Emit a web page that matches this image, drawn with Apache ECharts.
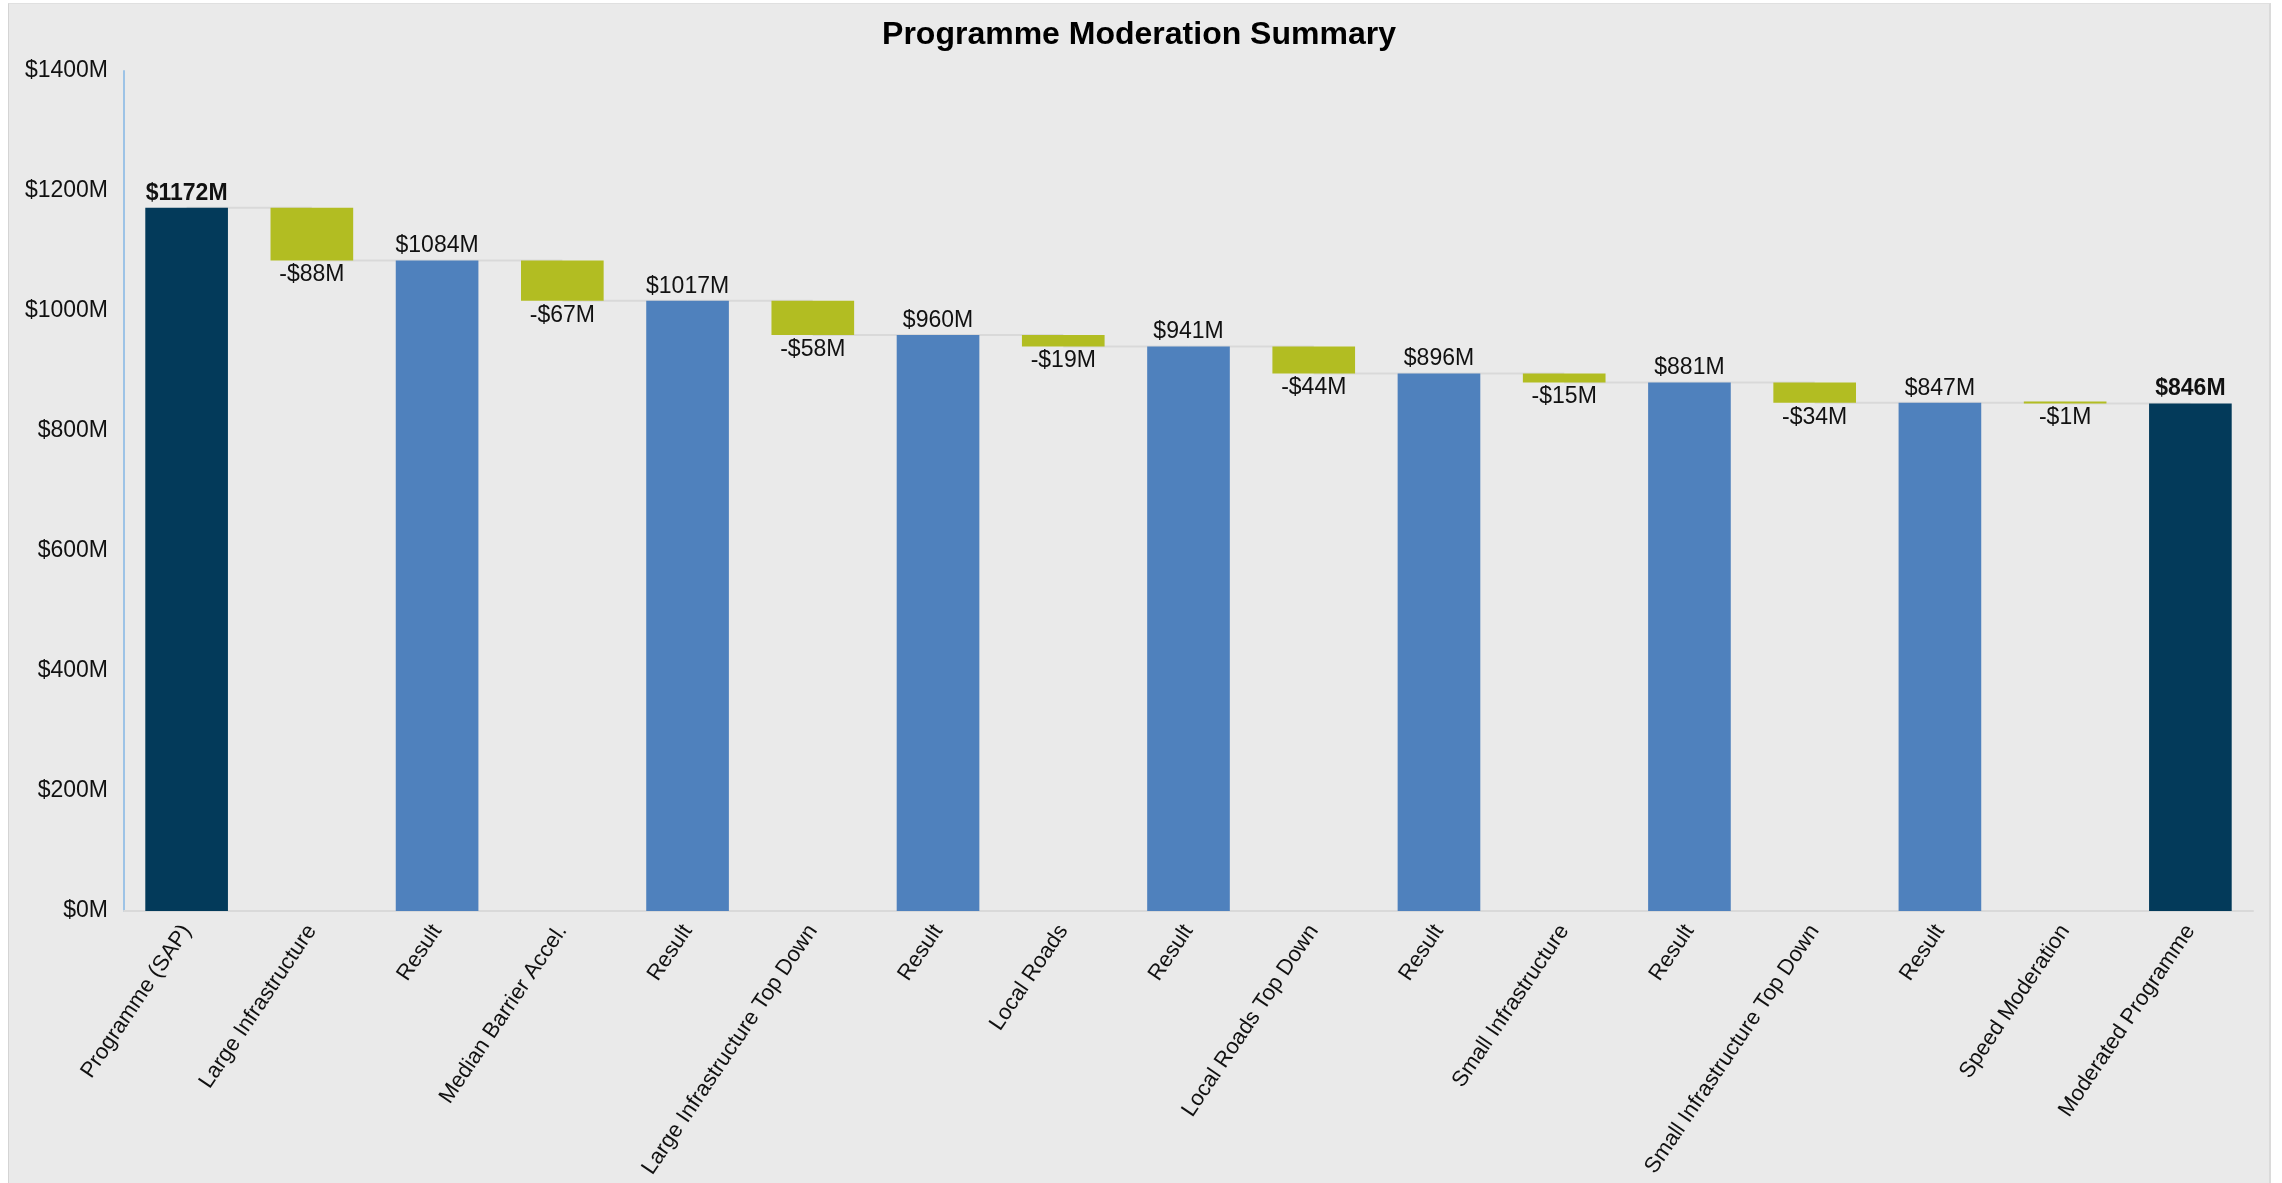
<!DOCTYPE html>
<html>
<head>
<meta charset="utf-8">
<title>Programme Moderation Summary</title>
<script src="https://cdn.jsdelivr.net/npm/echarts@6/dist/echarts.min.js"></script>
<style>
  html, body { margin: 0; padding: 0; background: #ffffff; }
  #chart {
    position: absolute; left: 8px; top: 3px;
    width: 2263px; height: 1180px;
    background: #eaeaea;
    border-left: 1px solid #d4d4d4;
    border-top: 1px solid #e0e0e0;
    border-right: 2px solid #dadada;
    box-sizing: border-box;
  }
</style>
</head>
<body>
<div id="chart"></div>
<script>
// 类目 & 数值（单位：百万美元）
const categories = [
  'Programme (SAP)', 'Large Infrastructure', 'Result', 'Median Barrier Accel.',
  'Result', 'Large Infrastructure Top Down', 'Result', 'Local Roads',
  'Result', 'Local Roads Top Down', 'Result', 'Small Infrastructure',
  'Result', 'Small Infrastructure Top Down', 'Result', 'Speed Moderation',
  'Moderated Programme'
]
// 合计柱（null = 变动项）
const totals = [1172, null, 1084, null, 1017, null, 960, null, 941, null, 896, null, 881, null, 847, null, 846]
// 变动值（null = 合计项）
const deltas = [null, -88, null, -67, null, -58, null, -19, null, -44, null, -15, null, -34, null, -1, null]
// 首尾为主合计
const isMain = [true, false, false, false, false, false, false, false, false, false, false, false, false, false, false, false, true]

const yTicks = [0, 200, 400, 600, 800, 1000, 1200, 1400]

const NAVY = '#033a5a'
const BLUE = '#4f81bd'
const GREEN = '#b2bd22'
const FONT = 'Liberation Sans, Arial, sans-serif'

// 透明底座 + 可见柱
const baseData = []
const barData = []
const connectorData = []
categories.forEach((c, i) => {
  if (totals[i] !== null) {
    baseData.push(0)
    barData.push({
      value: totals[i],
      itemStyle: { color: isMain[i] ? NAVY : BLUE },
      label: {
        position: 'top',
        fontWeight: isMain[i] ? 'bold' : 'normal',
        formatter: '$' + totals[i] + 'M'
      }
    })
  } else {
    const top = totals[i - 1]
    const bottom = totals[i + 1]
    baseData.push(bottom)
    barData.push({
      value: top - bottom,
      itemStyle: { color: GREEN },
      label: {
        position: 'bottom',
        formatter: '-$' + Math.abs(deltas[i]) + 'M'
      }
    })
  }
  if (i < categories.length - 1) {
    const level = totals[i] !== null ? totals[i] : totals[i + 1]
    connectorData.push([i, level])
  }
})

let myChart = echarts.init(document.getElementById('chart'))

let option = {
  backgroundColor: 'transparent',
  animation: false,
  textStyle: { fontFamily: FONT },
  title: {
    text: 'Programme Moderation Summary',
    left: 'center',
    top: 10,
    textStyle: { fontSize: 32, fontWeight: 'bold', color: '#000', fontFamily: FONT }
  },
  grid: { left: 115, right: 16, top: 67, bottom: 272, containLabel: false },
  xAxis: {
    type: 'category',
    data: categories,
    axisLine: { lineStyle: { color: '#d9d9d9', width: 2 } },
    axisTick: { show: false },
    axisLabel: {
      rotate: 56,
      interval: 0,
      margin: 16,
      fontSize: 22,
      color: '#111',
      fontFamily: FONT
    }
  },
  yAxis: {
    type: 'value',
    min: 0,
    max: yTicks[yTicks.length - 1],
    interval: 200,
    axisLine: { show: true, lineStyle: { color: '#9dc3e6', width: 2 } },
    axisTick: { show: false },
    splitLine: { show: false },
    axisLabel: {
      margin: 16,
      fontSize: 23,
      color: '#111',
      fontFamily: FONT,
      formatter: v => '$' + v + 'M'
    }
  },
  series: [
    {
      name: 'connector',
      type: 'custom',
      z: 1,
      silent: true,
      data: connectorData,
      renderItem: (params, api) => {
        const i = api.value(0)
        const p1 = api.coord([i, api.value(1)])
        const p2 = api.coord([i + 1, api.value(1)])
        return {
          type: 'line',
          shape: { x1: p1[0], y1: p1[1], x2: p2[0], y2: p2[1] },
          style: { stroke: '#d9d9d9', lineWidth: 2 }
        }
      }
    },
    {
      name: 'base',
      type: 'bar',
      stack: 'wf',
      z: 2,
      barWidth: '66%',
      silent: true,
      itemStyle: { color: 'transparent' },
      data: baseData
    },
    {
      name: 'value',
      type: 'bar',
      stack: 'wf',
      z: 2,
      barWidth: '66%',
      barMinHeight: 2,
      label: {
        show: true,
        fontSize: 23,
        color: '#111',
        distance: 3,
        fontFamily: FONT
      },
      data: barData
    }
  ]
}

myChart.setOption(option)
</script>
</body>
</html>
